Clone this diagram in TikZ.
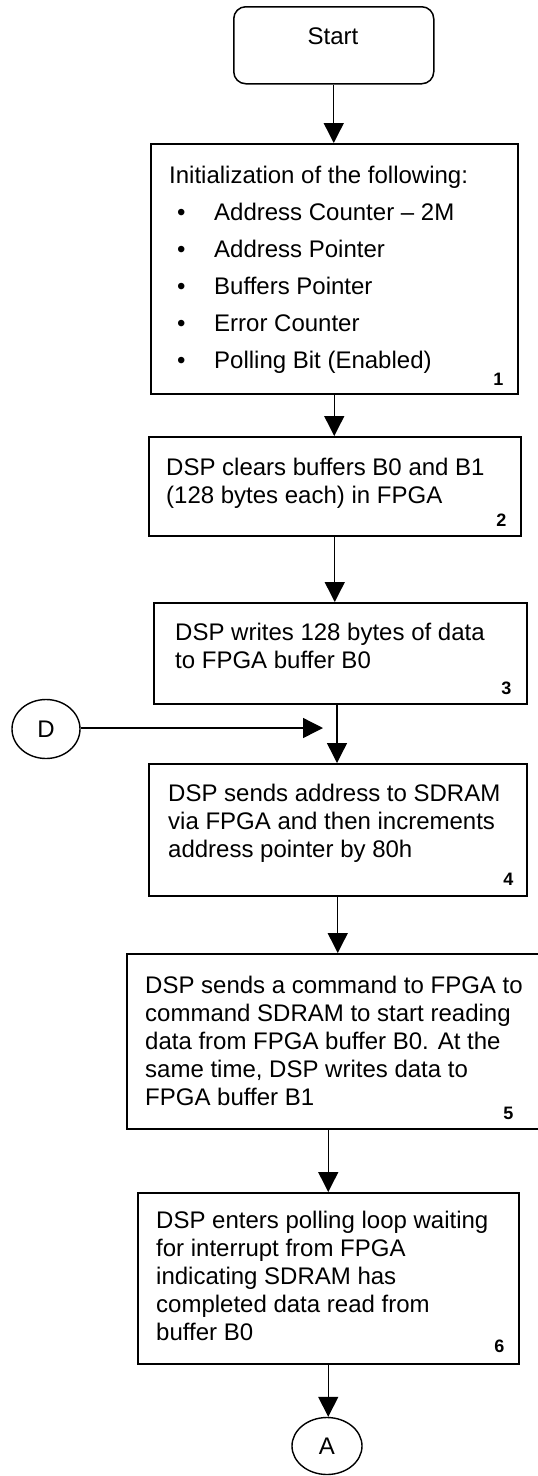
\documentclass[tikz,border=0pt]{standalone}
\usepackage{fontspec}
\setmainfont{Liberation Sans}
\usetikzlibrary{arrows.meta,calc,shapes.geometric}
\begin{document}
\begin{tikzpicture}[x=1pt,y=-1pt,
  box/.style={draw,line width=1.5pt,rectangle,inner sep=0pt,anchor=north west},
  startbox/.style={box,rounded corners=12pt},
  txt/.style={inner sep=0pt,anchor=north west,align=left,font=\fontsize{24}{28}\selectfont},
  num/.style={inner sep=0pt,font=\bfseries\fontsize{18}{18}\selectfont},
  conn/.style={ellipse,draw,line width=1.4pt,inner sep=0pt,font=\fontsize{24}{28}\selectfont},
  arr/.style={line width=1.4pt,-{Triangle[width=20pt,length=20pt]}}
]
\useasboundingbox (0,0) rectangle (538,1476);

% start terminal
\node[startbox,minimum width=200pt,minimum height=77pt] (start) at (233,6) {};
\node[inner sep=0pt,font=\fontsize{24}{28}\selectfont] (startlbl) at (333,36) {Start};

% step 1: initialisation
\node[box,minimum width=367pt,minimum height=250pt] (b1) at (150,143) {};
\node[txt] (b1head) at (169,166) {Initialization of the following:};
\node[txt,font=\fontsize{24}{37}\selectfont] (b1list) at (177,203)
  {\makebox[37pt][l]{•}Address Counter – 2M\\
   \makebox[37pt][l]{•}Address Pointer\\
   \makebox[37pt][l]{•}Buffers Pointer\\
   \makebox[37pt][l]{•}Error Counter\\
   \makebox[37pt][l]{•}Polling Bit (Enabled)};
\node[num] (n1) at ($(b1.south east)+(-20,-15)$) {1};

% step 2
\node[box,minimum width=372pt,minimum height=99pt] (b2) at (148,436) {};
\node[txt] (b2t) at (166,458) {DSP clears buffers B0 and B1\\(128 bytes each) in FPGA};
\node[num] (n2) at ($(b2.south east)+(-20,-16)$) {2};

% step 3
\node[box,minimum width=373pt,minimum height=101pt] (b3) at (153,602) {};
\node[txt] (b3t) at (175,623) {DSP writes 128 bytes of data\\to FPGA buffer B0};
\node[num] (n3) at ($(b3.south east)+(-21,-16)$) {3};

% step 4
\node[box,minimum width=378pt,minimum height=132pt] (b4) at (148,763) {};
\node[txt] (b4t) at (168,784) {DSP sends address to SDRAM\\via FPGA and then increments\\address pointer by 80h};
\node[num] (n4) at ($(b4.south east)+(-19,-17)$) {4};

% step 5
\node[box,minimum width=414pt,minimum height=175pt] (b5) at (126,953) {};
\node[txt] (b5t) at (145,976) {DSP sends a command to FPGA to\\command SDRAM to start reading\\data from FPGA buffer B0. At the\\same time, DSP writes data to\\FPGA buffer B1};
\node[num] (n5) at ($(b5.south east)+(-33,-16)$) {5};

% step 6
\node[box,minimum width=381pt,minimum height=171pt] (b6) at (137,1192) {};
\node[txt] (b6t) at (156,1211) {DSP enters polling loop waiting\\for interrupt from FPGA\\indicating SDRAM has\\completed data read from\\buffer B0};
\node[num] (n6) at ($(b6.south east)+(-20,-18)$) {6};

% off-page connectors
\node[conn,minimum width=68pt,minimum height=59pt] (D) at (46,729) {D};
\node[conn,minimum width=70pt,minimum height=57pt] (A) at (327,1446) {A};
\coordinate (col) at (337,0);
\coordinate (dtip) at (323,728);

% flow lines
\draw[arr] (start.south) -- (start.south |- b1.north);
\draw[arr] (b1.south) -- (b1.south |- b2.north);
\draw[arr] (b2.south) -- (b2.south |- b3.north);
\draw[arr] (b3.south -| col) -- (b4.north -| col);
\draw[arr] (D.east |- dtip) -- (dtip);
\draw[arr] (b4.south) -- (b4.south |- b5.north);
\draw[arr] (b5.south -| b6.north) -- (b6.north);
\draw[arr] (b6.south) -- (b6.south |- A.north);
\end{tikzpicture}
\end{document}
